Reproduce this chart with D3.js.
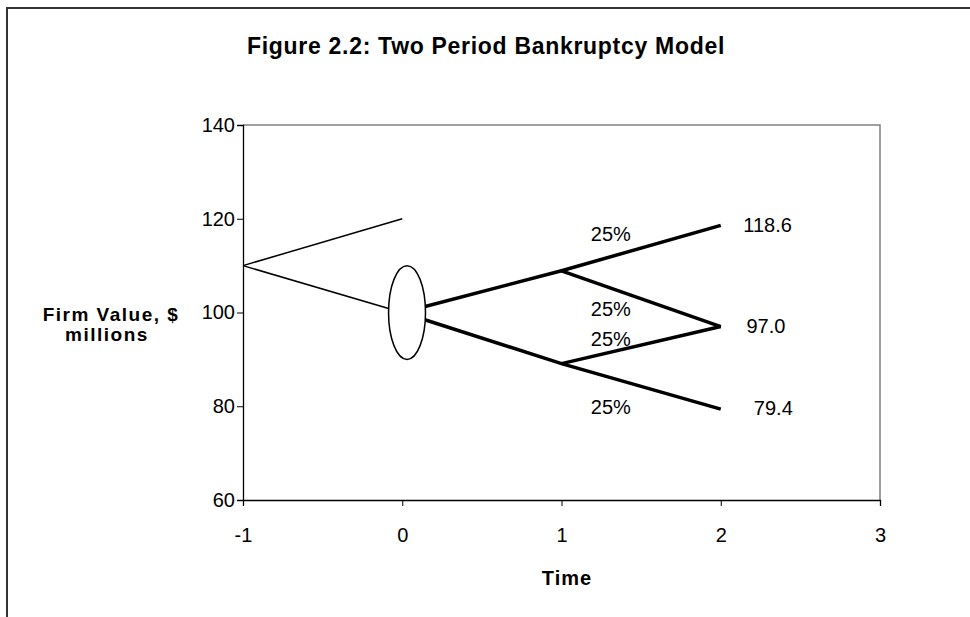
<!DOCTYPE html>
<html>
<head>
<meta charset="utf-8">
<script src="https://cdn.jsdelivr.net/npm/d3@7"></script>
<style>
  body { margin: 0; background: #fff; }
  svg { display: block; font-family: "Liberation Sans", Arial, sans-serif; }
</style>
</head>
<body>
<div id="chart"></div>
<script>
'use strict';

// axis ticks
const xTicks = [-1, 0, 1, 2, 3];
const yTicks = [60, 80, 100, 120, 140];

// period -1 -> 0 (thin lines)
const thinLines = [
    [[-1, 110], [0, 120]],
    [[-1, 110], [0, 100]]
];

// binomial tree from t=0 (thick lines)
const treeLines = [
    [[0, 100], [1, 108.9], [2, 118.6]],
    [[1, 108.9], [2, 97.0]],
    [[0, 100], [1, 89.1], [2, 79.4]],
    [[1, 89.1], [2, 97.0]]
];

const probLabels = [
    { t: 1.31, v: 116.4, text: "25%" },
    { t: 1.31, v: 100.4, text: "25%" },
    { t: 1.31, v: 94.0, text: "25%" },
    { t: 1.31, v: 79.5, text: "25%" }
];

const endLabels = [
    { t: 2.294, v: 118.3, text: "118.6" },
    { t: 2.284, v: 96.7, text: "97.0" },
    { t: 2.33, v: 79.3, text: "79.4" }
];

const W = 970, H = 617;
const margin = { top: 125, right: 90, bottom: 117, left: 243 };

const svg = d3.select("#chart")
    .append("svg")
    .attr("width", W)
    .attr("height", H);

// outer chart frame (cut off at right/bottom)
svg.append("path")
    .attr("d", "M7,617 L7,8 L970,8")
    .attr("fill", "none")
    .attr("stroke", "#333")
    .attr("stroke-width", 2);

const x = d3.scaleLinear().domain([-1, 3]).range([margin.left, W - margin.right]);
const y = d3.scaleLinear().domain([60, 140]).range([H - margin.bottom, margin.top]);

// plot area border: top/right grey
svg.append("path")
    .attr("d", `M${x(-1)},${y(140)} L${x(3)},${y(140)} L${x(3)},${y(60)}`)
    .attr("fill", "none")
    .attr("stroke", "#808080")
    .attr("stroke-width", 1.5);

const xAxis = svg.append("g")
    .attr("transform", `translate(0,${y(60)})`)
    .call(d3.axisBottom(x).tickValues(xTicks).tickSize(6).tickPadding(22)
        .tickFormat(function(d) { return String(d); }));

const yAxis = svg.append("g")
    .attr("transform", `translate(${x(-1)},0)`)
    .call(d3.axisLeft(y).tickValues(yTicks).tickSize(6).tickPadding(2)
        .tickFormat(function(d) { return String(d); }));

[xAxis, yAxis].forEach(function(g) {
    g.select(".domain").attr("stroke", "#000").attr("stroke-width", 1.3);
    g.selectAll(".tick line").attr("stroke", "#000");
    g.selectAll(".tick text")
        .attr("font-family", "Liberation Sans, Arial, sans-serif")
        .attr("font-size", 20)
        .attr("fill", "#000");
});

const line = d3.line()
    .x(function(d) { return x(d[0]); })
    .y(function(d) { return y(d[1]); });

svg.selectAll(".thin")
    .data(thinLines)
    .enter()
    .append("path")
    .attr("class", "thin")
    .attr("d", line)
    .attr("fill", "none")
    .attr("stroke", "#000")
    .attr("stroke-width", 1.5);

svg.selectAll(".tree")
    .data(treeLines)
    .enter()
    .append("path")
    .attr("class", "tree")
    .attr("d", line)
    .attr("fill", "none")
    .attr("stroke", "#000")
    .attr("stroke-width", 3.5)
    .attr("stroke-linejoin", "miter");

// ellipse marking firm value at t=0
svg.append("ellipse")
    .attr("cx", x(0.03))
    .attr("cy", y(100))
    .attr("rx", x(0.116) - x(0))
    .attr("ry", y(90) - y(100))
    .attr("fill", "#fff")
    .attr("stroke", "#000")
    .attr("stroke-width", 1.5);

svg.selectAll(".prob")
    .data(probLabels)
    .enter()
    .append("text")
    .attr("class", "prob")
    .attr("x", function(d) { return x(d.t); })
    .attr("y", function(d) { return y(d.v); })
    .attr("text-anchor", "middle")
    .attr("dominant-baseline", "middle")
    .attr("font-size", 20)
    .text(function(d) { return d.text; });

svg.selectAll(".endval")
    .data(endLabels)
    .enter()
    .append("text")
    .attr("class", "endval")
    .attr("x", function(d) { return x(d.t); })
    .attr("y", function(d) { return y(d.v); })
    .attr("text-anchor", "middle")
    .attr("dominant-baseline", "middle")
    .attr("font-size", 20)
    .text(function(d) { return d.text; });

// title
svg.append("text")
    .attr("x", 486)
    .attr("y", 54)
    .attr("text-anchor", "middle")
    .attr("font-size", 23)
    .attr("font-weight", "bold")
    .attr("letter-spacing", 0.7)
    .text("Figure 2.2: Two Period Bankruptcy Model");

// axis titles
svg.append("text")
    .attr("x", 567)
    .attr("y", 585)
    .attr("text-anchor", "middle")
    .attr("font-size", 20)
    .attr("font-weight", "bold")
    .attr("letter-spacing", 1)
    .text("Time");

const yTitle = svg.append("text")
    .attr("text-anchor", "middle")
    .attr("font-size", 19)
    .attr("font-weight", "bold")
    .attr("letter-spacing", 1.5);
yTitle.append("tspan").attr("x", 111).attr("y", 321).text("Firm Value, $");
yTitle.append("tspan").attr("x", 107).attr("y", 341).text("millions");
</script>
</body>
</html>
